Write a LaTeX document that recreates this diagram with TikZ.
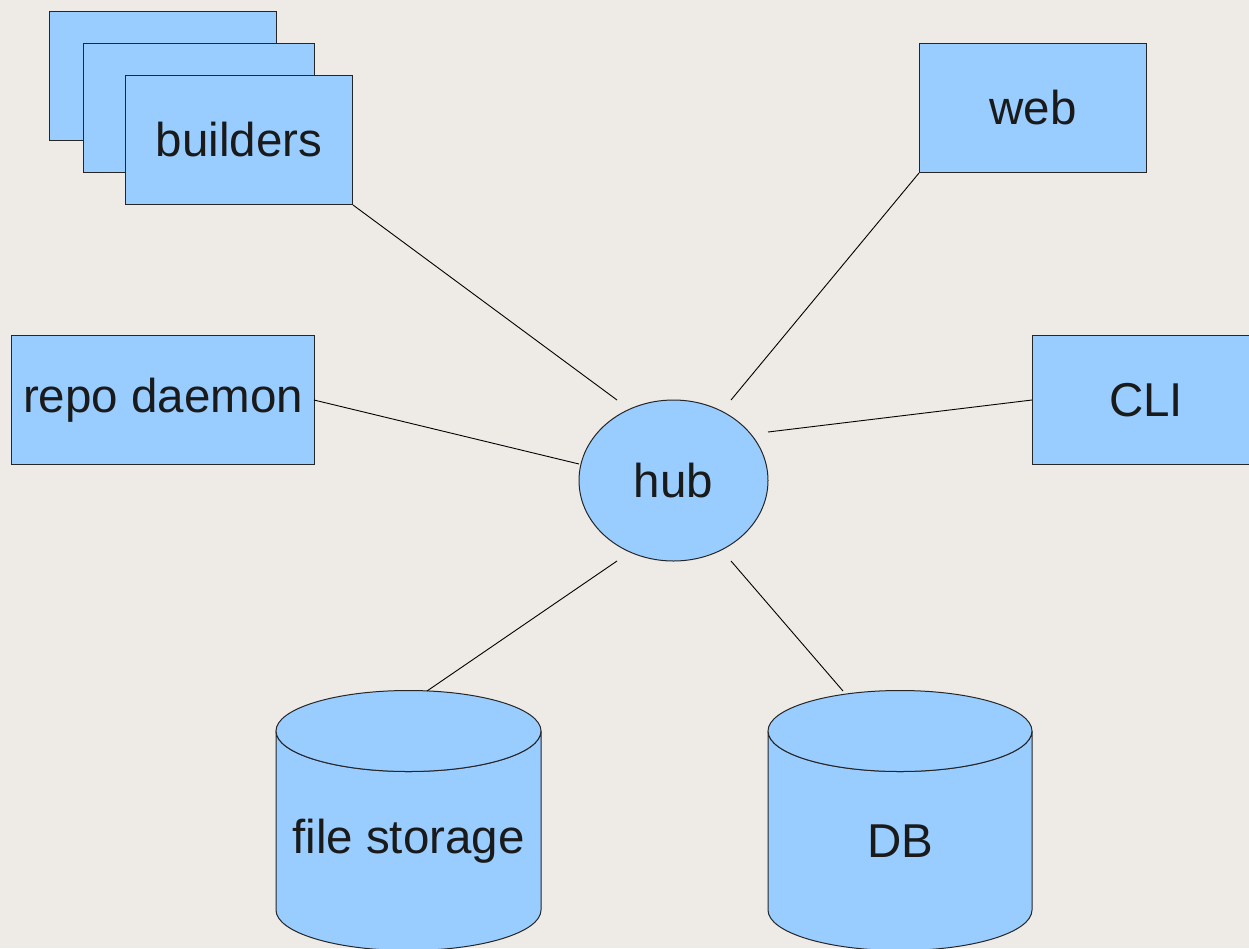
\documentclass[tikz,border=0pt]{standalone}
\usepackage{fontspec}
\setmainfont{Liberation Sans}
\usetikzlibrary{shapes.geometric}
\definecolor{bgc}{HTML}{EEEBE6}
\definecolor{boxc}{HTML}{99CCFF}
\definecolor{txtc}{HTML}{1A1A1A}
\begin{document}
\begin{tikzpicture}[x=1pt,y=-1pt,
  box/.style={draw=black!85, fill=boxc, line width=1pt, rectangle, inner sep=0pt,
    minimum width=227pt, minimum height=129pt, text=txtc,
    font=\fontsize{47.5}{50}\selectfont},
  lbl/.style={text=txtc, inner sep=0pt, font=\fontsize{47.5}{50}\selectfont},
  con/.style={draw=black, line width=0.9pt},
  cyl/.style={draw=black!85, fill=boxc, line width=1pt}]
\fill[bgc] (0,0) rectangle (1249,948);
\useasboundingbox (0,0) rectangle (1249,948);

% builders stack
\node[box, anchor=north west] (b1) at (49,11) {};
\node[box, anchor=north west, minimum width=231pt] (b2) at (83,43) {};
\node[box, anchor=north west] (builders) at (125,75) {builders};

\node[box, anchor=north west] (web) at (919,43) {web};
\node[box, anchor=north west, minimum width=303pt] (repo) at (11,335) {repo daemon};
\node[box, anchor=north west] (cli) at (1032,335) {CLI};

% hub
\node[ellipse, draw=black!85, fill=boxc, line width=1pt, minimum width=189pt,
  minimum height=161pt, inner sep=0pt, text=txtc,
  font=\fontsize{47.5}{50}\selectfont] (hub) at (673.5,480.5) {hub};

% cylinders
\path[cyl] (276,731) -- (276,910) arc[start angle=180, end angle=0, x radius=132.5, y radius=40.5] -- (541,731) arc[start angle=0, end angle=180, x radius=132.5, y radius=40.5] -- cycle;
\draw[cyl] (408.5,731) ellipse[x radius=132.5, y radius=40.5];
\node[lbl] (fs) at (408.5,841) {file storage};

\path[cyl] (768,731) -- (768,910) arc[start angle=180, end angle=0, x radius=132, y radius=40.5] -- (1032,731) arc[start angle=0, end angle=180, x radius=132, y radius=40.5] -- cycle;
\draw[cyl] (900,731) ellipse[x radius=132, y radius=40.5];
\node[lbl] (db) at (900,841) {DB};

% connector end points
\coordinate (h1) at (617,400);
\coordinate (h2) at (731,400);
\coordinate (h3) at (579,464);
\coordinate (h4) at (768,432);
\coordinate (h5) at (617,561);
\coordinate (h6) at (731,561);
\coordinate (fstop) at (427,691);
\coordinate (dbtop) at (843,691);
\coordinate (clil) at (1032,400);
\coordinate (repor) at (314,400);

\draw[con] (builders.south east) -- (h1);
\draw[con] (web.south west) -- (h2);
\draw[con] (repor) -- (h3);
\draw[con] (clil) -- (h4);
\draw[con] (fstop) -- (h5);
\draw[con] (dbtop) -- (h6);
\end{tikzpicture}
\end{document}
